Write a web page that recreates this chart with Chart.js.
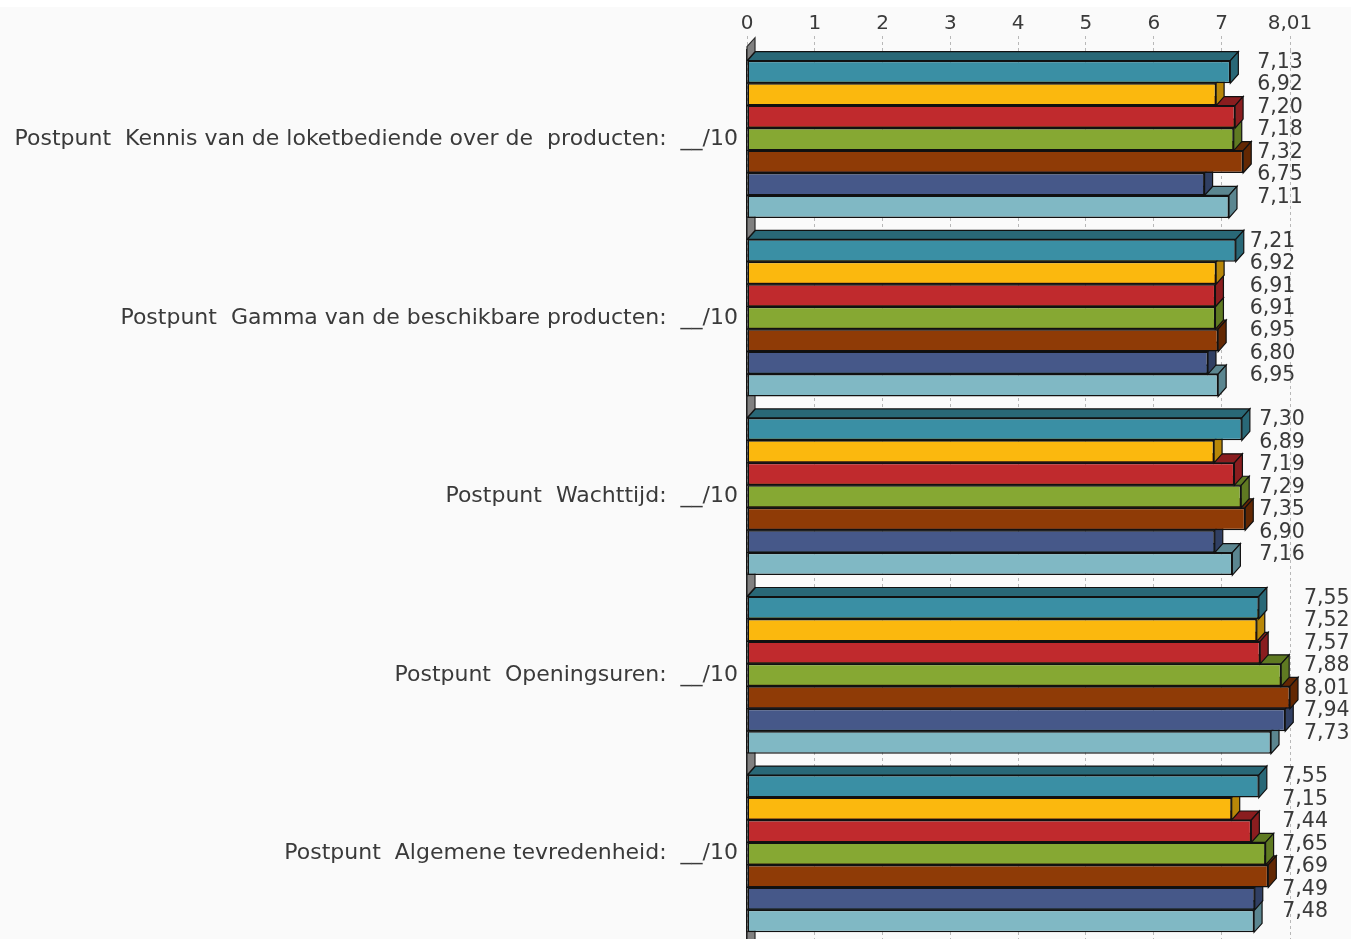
<!DOCTYPE html>
<html><head><meta charset="utf-8">
<script src="https://cdn.jsdelivr.net/npm/chart.js@4"></script>
<style>html,body{margin:0;padding:0;background:#ffffff;overflow:hidden}canvas{display:block}</style>
</head><body>
<canvas id="c" width="1351" height="943"></canvas>
<script>
const categories = [
  'Postpunt  Kennis van de loketbediende over de  producten:  __/10',
  'Postpunt  Gamma van de beschikbare producten:  __/10',
  'Postpunt  Wachttijd:  __/10',
  'Postpunt  Openingsuren:  __/10',
  'Postpunt  Algemene tevredenheid:  __/10'
];
const seriesNames = ['Reeks 1','Reeks 2','Reeks 3','Reeks 4','Reeks 5','Reeks 6','Reeks 7'];
const series1 = [7.13, 7.21, 7.30, 7.55, 7.55];
const series2 = [6.92, 6.92, 6.89, 7.52, 7.15];
const series3 = [7.20, 6.91, 7.19, 7.57, 7.44];
const series4 = [7.18, 6.91, 7.29, 7.88, 7.65];
const series5 = [7.32, 6.95, 7.35, 8.01, 7.69];
const series6 = [6.75, 6.80, 6.90, 7.94, 7.49];
const series7 = [7.11, 6.95, 7.16, 7.73, 7.48];
const tickValues = [0, 1, 2, 3, 4, 5, 6, 7, 8.01];

const frontColors = ['#3a8fa4','#fbb80e','#c02a2d','#86a833','#8f3b06','#465889','#80b8c4'];
const darkColors  = ['#296877','#b88708','#8a1d1f','#5f7a22','#632803','#303f63','#5b8690'];
const allSeries = [series1, series2, series3, series4, series5, series6, series7];

const DX = 8, DY = -9;
const FONT = 'DejaVu Sans';
const fmt = v => v.toFixed(2).replace('.', ',');
const fmtTick = v => (Number.isInteger(v) ? String(v) : v.toFixed(2).replace('.', ','));

const bgPlugin = {
  id: 'bg',
  beforeDraw(chart) {
    const ctx = chart.ctx;
    ctx.save();
    ctx.fillStyle = '#fafafa';
    ctx.fillRect(0, 7, chart.width, chart.height - 7);
    ctx.restore();
  }
};

function poly(ctx, pts, fill, stroke) {
  ctx.beginPath();
  ctx.moveTo(pts[0][0], pts[0][1]);
  for (let i = 1; i < pts.length; i++) ctx.lineTo(pts[i][0], pts[i][1]);
  ctx.closePath();
  ctx.fillStyle = fill; ctx.fill();
  ctx.strokeStyle = stroke; ctx.lineWidth = 1.2; ctx.stroke();
}

const wallPlugin = {
  id: 'wall',
  beforeDatasetsDraw(chart) {
    const ctx = chart.ctx;
    const n = chart.data.datasets.length;
    const first = chart.getDatasetMeta(0).data;
    const last = chart.getDatasetMeta(n - 1).data;
    const L = chart.chartArea.left;
    ctx.save();
    for (let k = 0; k <= first.length; k++) {
      let upper, lower;
      if (k === 0) {
        upper = first[0].y - first[0].height / 2 - 14;
      } else {
        upper = last[k - 1].y + last[k - 1].height / 2;
      }
      if (k === first.length) {
        lower = chart.chartArea.bottom + 20;
      } else {
        lower = first[k].y - first[k].height / 2;
      }
      poly(ctx, [[L, upper], [L + DX, upper + DY], [L + DX, lower + DY], [L, lower]], '#808080', '#2a2a2a');
    }
    ctx.restore();
  }
};

const bar3dPlugin = {
  id: 'bar3d',
  beforeDatasetDraw(chart, args) {
    const ctx = chart.ctx;
    const ds = chart.data.datasets[args.index];
    ctx.save();
    args.meta.data.forEach(el => {
      const top = el.y - el.height / 2, bot = el.y + el.height / 2;
      const x = el.x, b = el.base;
      poly(ctx, [[b, top], [x, top], [x + DX, top + DY], [b + DX, top + DY]], ds.darkColor, '#111');
      poly(ctx, [[x, top], [x + DX, top + DY], [x + DX, bot + DY], [x, bot]], ds.darkColor, '#111');
    });
    ctx.restore();
  }
};

const labelPlugin = {
  id: 'vlabels',
  afterDatasetsDraw(chart) {
    const ctx = chart.ctx;
    const n = chart.data.datasets.length;
    ctx.save();
    ctx.font = '20.5px "' + FONT + '"';
    ctx.fillStyle = '#3a3a3a';
    ctx.textAlign = 'left';
    ctx.textBaseline = 'middle';
    for (let j = 0; j < categories.length; j++) {
      let maxX = -Infinity;
      for (let i = 0; i < n; i++) maxX = Math.max(maxX, chart.getDatasetMeta(i).data[j].x);
      const lx = maxX + DX + 6;
      for (let i = 0; i < n; i++) {
        const el = chart.getDatasetMeta(i).data[j];
        ctx.fillText(fmt(chart.data.datasets[i].data[j]), lx, el.y - el.height / 2 + 2);
      }
    }
    ctx.restore();
  }
};

new Chart(document.getElementById('c'), {
  type: 'bar',
  data: {
    labels: categories,
    datasets: allSeries.map((s, i) => ({
      label: seriesNames[i],
      data: s,
      backgroundColor: frontColors[i],
      darkColor: darkColors[i],
      borderColor: '#111',
      borderWidth: 1.5,
      borderSkipped: false,
      barPercentage: 1.0,
      categoryPercentage: 0.88,
      clip: false
    }))
  },
  options: {
    indexAxis: 'y',
    responsive: false,
    animation: false,
    devicePixelRatio: 1,
    layout: { padding: { top: 0, right: 61, bottom: 0, left: 0 } },
    plugins: { legend: { display: false }, tooltip: { enabled: false } },
    scales: {
      x: {
        position: 'top',
        min: 0, max: 8.01,
        afterBuildTicks: scale => { scale.ticks = tickValues.map(v => ({ value: v })); },
        afterFit: scale => { scale.height = 50; },
        ticks: {
          callback: v => fmtTick(v),
          color: '#3a3a3a',
          font: { family: FONT, size: 20 },
          padding: 0,
          maxRotation: 0,
          autoSkip: false
        },
        grid: {
          color: '#b8b8b8', lineWidth: 1,
          drawTicks: true, tickLength: 14,
          tickColor: '#b8b8b8', tickBorderDash: [3, 3]
        },
        border: { display: false, dash: [3, 3] }
      },
      y: {
        afterFit: scale => { scale.width = 747; scale.paddingTop = 0; scale.paddingBottom = 0; },
        ticks: {
          color: '#3a3a3a',
          font: { family: FONT, size: 22 },
          padding: 9
        },
        grid: { display: false, drawTicks: false },
        border: { display: true, color: '#111', width: 1.5 }
      }
    }
  },
  plugins: [bgPlugin, wallPlugin, bar3dPlugin, labelPlugin]
});
</script>
</body></html>
